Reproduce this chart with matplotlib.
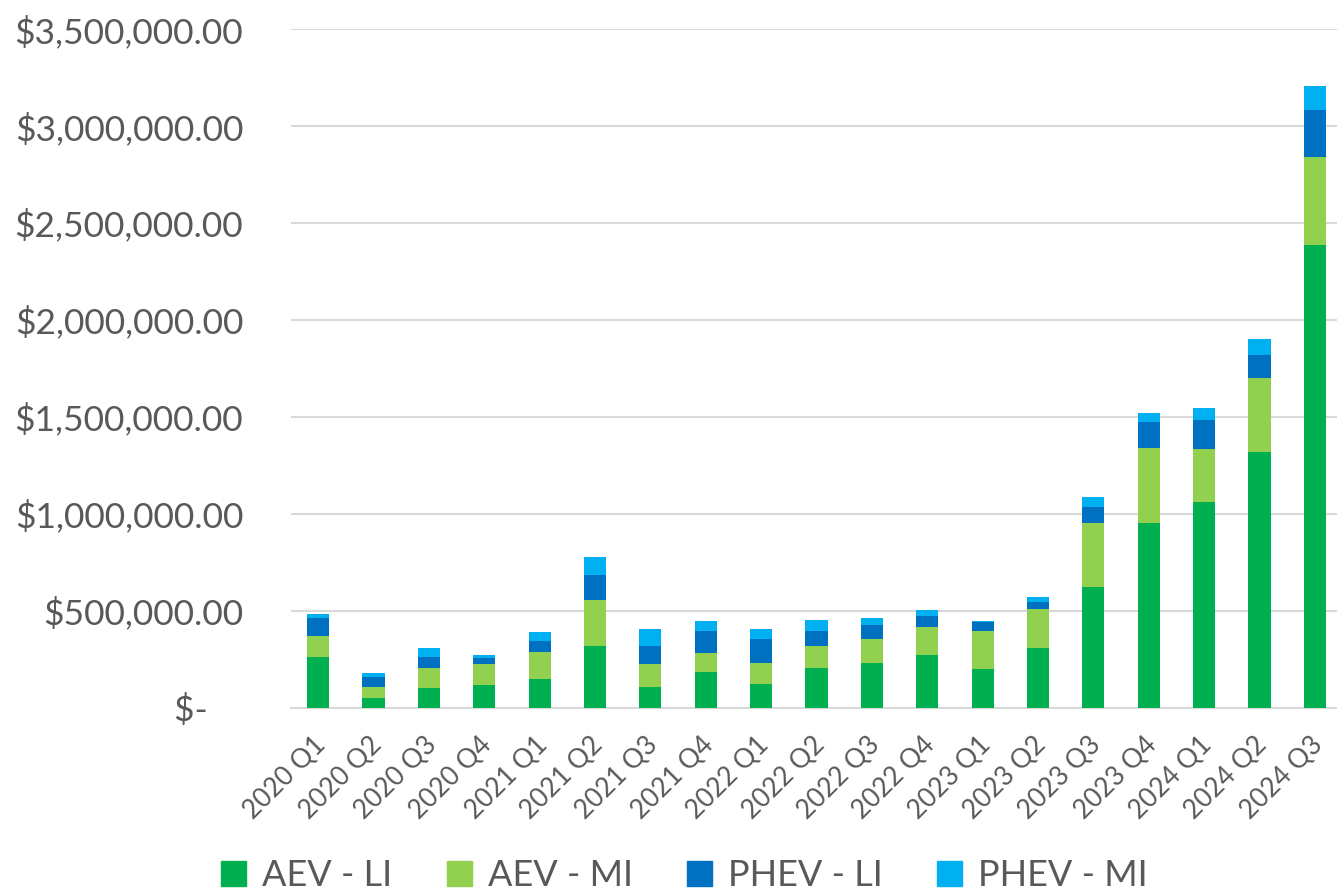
import matplotlib
matplotlib.use("Agg")
import matplotlib.pyplot as plt
import matplotlib.transforms as mtransforms
from matplotlib.ticker import FuncFormatter
from matplotlib.patches import Patch
import numpy as np

categories = ["2020 Q1", "2020 Q2", "2020 Q3", "2020 Q4", "2021 Q1", "2021 Q2", "2021 Q3", "2021 Q4",
              "2022 Q1", "2022 Q2", "2022 Q3", "2022 Q4", "2023 Q1", "2023 Q2", "2023 Q3", "2023 Q4",
              "2024 Q1", "2024 Q2", "2024 Q3"]
aev_li = [259000, 50000, 100000, 115000, 146000, 316000, 105000, 181000, 120000, 203000, 232000, 272000,
          200000, 306000, 620000, 952000, 1059000, 1320000, 2385000]
aev_mi = [112000, 57000, 103000, 108000, 138000, 241000, 121000, 100000, 112000, 114000, 120000, 141000,
          194000, 201000, 330000, 387000, 276000, 380000, 457000]
phev_li = [89000, 52000, 57000, 31000, 57000, 127000, 91000, 116000, 120000, 79000, 72000, 57000,
           45000, 36000, 86000, 134000, 148000, 120000, 239000]
phev_mi = [23000, 21000, 45000, 19000, 48000, 93000, 90000, 48000, 55000, 53000, 36000, 35000,
           9000, 26000, 48000, 45000, 63000, 82000, 125000]
series_names = ["AEV - LI", "AEV - MI", "PHEV - LI", "PHEV - MI"]
colors = ["#00B050", "#92D050", "#0070C0", "#00B0F0"]

plt.rcParams['font.family'] = ['Lato', 'DejaVu Sans']
text_color = "#595959"

fig = plt.figure(figsize=(13.37, 8.93), dpi=100)
W, H = 1337, 893
left, right = 290.5, 1337
top, bottom = 29, 707.5
ax = fig.add_axes([left / W, 1 - bottom / H, (right - left) / W, (bottom - top) / H])

x = np.arange(len(categories))
bottoms = np.zeros(len(categories))
for vals, name, c in zip([aev_li, aev_mi, phev_li, phev_mi], series_names, colors):
    ax.bar(x, vals, width=0.4, bottom=bottoms, color=c, label=name, zorder=3)
    bottoms += np.array(vals)

ax.set_ylim(0, 3500000)
ax.set_xlim(-0.5, len(categories) - 0.5 - 0.1)
ax.set_yticks(np.arange(0, 3500001, 500000))

def fmt(v, pos):
    if v == 0:
        return "$-    "
    return "${:,.2f}".format(v)

ax.yaxis.set_major_formatter(FuncFormatter(fmt))
ax.grid(axis='y', color="#D9D9D9", linewidth=1.5, zorder=0)
for s in ["top", "right", "left"]:
    ax.spines[s].set_visible(False)
ax.spines["bottom"].set_color("#D9D9D9")
ax.spines["bottom"].set_linewidth(1.5)
ax.tick_params(axis='both', length=0, colors=text_color)
ax.tick_params(axis='y', labelsize=25.5, pad=34)
ax.set_xticks(x)
ax.set_xticklabels(categories, rotation=45, ha='right', rotation_mode='anchor', fontsize=19)
ax.tick_params(axis='x', pad=18)
offset = mtransforms.ScaledTranslation(-5 / 100, 0, fig.dpi_scale_trans)
for lbl in ax.get_xticklabels():
    lbl.set_transform(lbl.get_transform() + offset)

handles = [Patch(color=c) for c in colors]
fig.legend(handles, series_names, loc='center', bbox_to_anchor=(684.5 / W, 1 - 876 / H), ncol=4,
           frameon=False, fontsize=26, handlelength=0.69, handleheight=0.69, handletextpad=0.45,
           columnspacing=1.5, labelcolor=text_color)

fig.savefig("out.png", dpi=100)
